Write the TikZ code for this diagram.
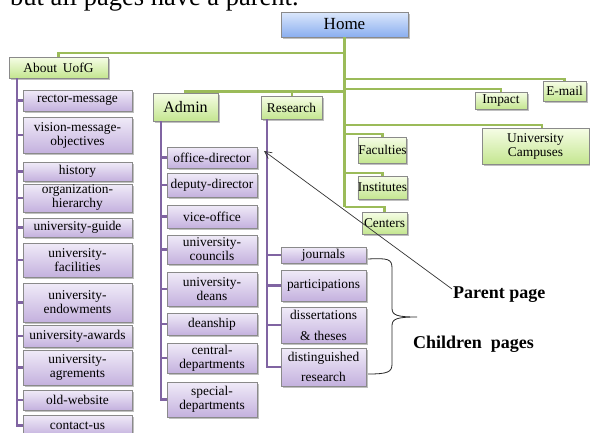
\documentclass[tikz,border=0pt]{standalone}
\usepackage{fontspec}
\setmainfont{Liberation Serif}
\usetikzlibrary{shadows,arrows.meta}
\definecolor{glinec}{HTML}{9BBB59}
\definecolor{plinec}{HTML}{8064A2}
\definecolor{gtop}{HTML}{F6FDE6}
\definecolor{gbot}{HTML}{C4E690}
\definecolor{ptop}{HTML}{F0EBF8}
\definecolor{pbot}{HTML}{C4B1DE}
\definecolor{htop}{HTML}{DCE8FC}
\definecolor{hbot}{HTML}{8AAEEF}
\definecolor{bordc}{HTML}{8A8A8A}
\begin{document}
\begin{tikzpicture}[x=1pt,y=-1pt,
  box/.style={draw=bordc, line width=0.7pt, inner sep=0pt, align=center,
    font=\fontsize{13.4}{14}\selectfont,
    drop shadow={shadow xshift=1.5pt, shadow yshift=-1.5pt, opacity=0.35, fill=black!70}},
  gbox/.style={box, top color=gtop, bottom color=gbot},
  pbox/.style={box, top color=ptop, bottom color=pbot},
  hbox/.style={box, top color=htop, bottom color=hbot, font=\fontsize{17}{18}\selectfont},
  sz/.style 2 args={minimum width=#1pt, minimum height=#2pt},
  gline/.style={draw=glinec, line width=2.9pt},
  pline/.style={draw=plinec, line width=2.9pt},
  note/.style={font=\fontsize{18}{20}\selectfont\bfseries, inner sep=0pt, anchor=base west}
]
\clip (0,0) rectangle (590,432);
\fill[white] (0,0) rectangle (590,432);

% heading, cut off at the top edge as in the reference
\node[inner sep=0pt, anchor=base west, font=\fontsize{26.5}{28}\selectfont] (head) at (10,5) {but all pages have a parent.};

% home and green nodes
\node[hbox, sz={127}{25}] (home) at (344.5,24.5) {Home};
\node[gbox, sz={99}{21}] (about) at (58.5,67.5) {About\hspace{0.45em}UofG};
\node[gbox, sz={65}{28}, font=\fontsize{16}{18}\selectfont] (admin) at (185.5,107) {Admin};
\node[gbox, sz={61}{23}] (research) at (291.5,107.5) {Research};
\node[gbox, sz={52}{17}] (impact) at (501,100.5) {Impact};
\node[gbox, sz={43}{20}] (email) at (564.5,91) {E-mail};
\node[gbox, sz={107}{36}] (campus) at (535.5,146) {University\\Campuses};
\node[gbox, sz={47}{26}] (faculties) at (382.5,150) {Faculties};
\node[gbox, sz={47}{23}] (institutes) at (382.5,187.5) {Institutes};
\node[gbox, sz={45}{22}] (centers) at (384.5,223) {Centers};

% About column
\node[pbox, sz={109}{21}] (a1) at (77.5,100.5) {rector-message};
\node[pbox, sz={109}{36}] (a2) at (77.5,135) {vision-message-\\objectives};
\node[pbox, sz={109}{19}] (a3) at (77.5,171.5) {history};
\node[pbox, sz={109}{28}] (a4) at (77.5,198) {organization-\\hierarchy};
\node[pbox, sz={109}{19}] (a5) at (77.5,227.5) {university-guide};
\node[pbox, sz={109}{34}] (a6) at (77.5,260) {university-\\facilities};
\node[pbox, sz={109}{39}] (a7) at (77.5,302.5) {university-\\endowments};
\node[pbox, sz={109}{22}] (a8) at (77.5,336) {university-awards};
\node[pbox, sz={109}{35}] (a9) at (77.5,367.5) {university-\\agrements};
\node[pbox, sz={109}{20}] (a10) at (77.5,400) {old-website};
\node[pbox, sz={109}{21}] (a11) at (77.5,425.5) {contact-us};

% Admin column
\node[pbox, sz={90}{21}] (b1) at (212,157.5) {office-director};
\node[pbox, sz={90}{24}] (b2) at (212,185) {deputy-director};
\node[pbox, sz={90}{23}] (b3) at (212,216.5) {vice-office};
\node[pbox, sz={90}{29}] (b4) at (212,249.5) {university-\\councils};
\node[pbox, sz={90}{34}] (b5) at (212,289) {university-\\deans};
\node[pbox, sz={90}{22}] (b6) at (212,324) {deanship};
\node[pbox, sz={90}{30}] (b7) at (212,358) {central-\\departments};
\node[pbox, sz={90}{35}] (b8) at (212,399.5) {special-\\departments};

% Research column
\node[pbox, sz={85}{16}] (c1) at (323.5,255) {journals};
\node[pbox, sz={85}{31}] (c2) at (323.5,285.5) {participations};
\node[pbox, sz={85}{36}, font=\fontsize{13.4}{21}\selectfont] (c3) at (323.5,325) {dissertations\\\& theses};
\node[pbox, sz={85}{38}, font=\fontsize{13.4}{20}\selectfont] (c4) at (323.5,367) {distinguished\\research};

% green connectors
\coordinate (tabout) at (344.5,53);
\coordinate (temail) at (344.5,79);
\coordinate (timpact) at (344.5,89);
\coordinate (tleft) at (344.5,91.5);
\coordinate (tcampus) at (344.5,125);
\coordinate (tfac) at (344.5,134);
\coordinate (tinst) at (344.5,173);
\coordinate (tcent) at (344.5,207);
\coordinate (rjoin) at (292,91.5);
\coordinate (cjoin) at (542,128);
\draw[gline] (home.south) -- (tcent);
\draw[gline] (tabout) -| (about.north);
\draw[gline] (temail) -| (email.north);
\draw[gline] (timpact) -| (impact.north);
\draw[gline] (tleft) -| (admin.north);
\draw[gline] (rjoin) -- (research.north -| rjoin);
\draw[gline] (tcampus) -| (cjoin);
\draw[gline] (tfac) -| (faculties.north);
\draw[gline] (tinst) -| (institutes.north);
\draw[gline] (tcent) -| (centers.north);

% purple connectors
\coordinate (pa) at (17,0);
\coordinate (pb) at (161,0);
\coordinate (pc) at (267,0);
\draw[pline] (about.south -| pa) |- (a11.west);
\foreach \n in {a1,a2,a3,a4,a5,a6,a7,a8,a9,a10} {\draw[pline] (\n.west -| pa) -- (\n.west);}
\draw[pline] (admin.south -| pb) |- (b8.west);
\foreach \n in {b1,b2,b3,b4,b5,b6,b7} {\draw[pline] (\n.west -| pb) -- (\n.west);}
\draw[pline] (research.south -| pc) |- (c4.west);
\foreach \n in {c1,c2,c3} {\draw[pline] (\n.west -| pc) -- (\n.west);}

% annotations
\node[note] (parent) at (453,298) {Parent page};
\node[note] (children) at (413,348) {Children\ \ pages};
\coordinate (ptip) at (264,151);
\coordinate (pstart) at (452,289);
\draw[black!80, line width=0.7pt, -{Straight Barb[length=7pt,width=7pt]}] (pstart) -- (ptip);
\coordinate (bs) at (368,259);
\coordinate (be) at (368,374);
\draw[black!85, line width=0.8pt] (bs) .. controls (388,258) and (392,259) .. (392,268) -- (392,308)
  .. controls (392,315) and (396,317) .. (417,317)
  .. controls (396,317) and (392,319) .. (392,326) -- (392,364)
  .. controls (392,372) and (388,374) .. (be);
\end{tikzpicture}
\end{document}
